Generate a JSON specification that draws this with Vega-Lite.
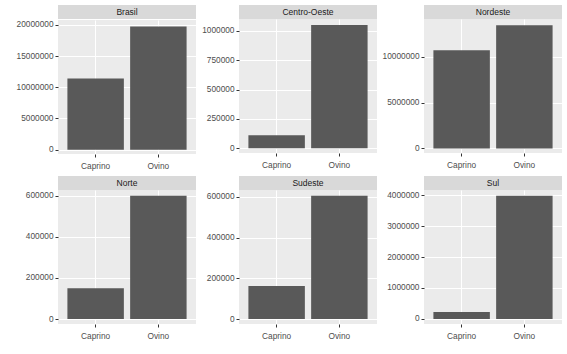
{
  "$schema": "https://vega.github.io/schema/vega-lite/v6.json",
  "background": "white",
  "padding": {"left": 16, "top": 5, "right": 4, "bottom": 4},
  "data": {"values": [
    {"regiao": "Brasil", "especie": "Caprino", "n": 11430000},
    {"regiao": "Brasil", "especie": "Ovino", "n": 19740000},
    {"regiao": "Centro-Oeste", "especie": "Caprino", "n": 110000},
    {"regiao": "Centro-Oeste", "especie": "Ovino", "n": 1048000},
    {"regiao": "Nordeste", "especie": "Caprino", "n": 10720000},
    {"regiao": "Nordeste", "especie": "Ovino", "n": 13470000},
    {"regiao": "Norte", "especie": "Caprino", "n": 150000},
    {"regiao": "Norte", "especie": "Ovino", "n": 600000},
    {"regiao": "Sudeste", "especie": "Caprino", "n": 162000},
    {"regiao": "Sudeste", "especie": "Ovino", "n": 605000},
    {"regiao": "Sul", "especie": "Caprino", "n": 224000},
    {"regiao": "Sul", "especie": "Ovino", "n": 3980000}
  ]},
  "columns": 3,
  "spacing": {"row": 6, "column": 5},
  "concat": [
    {"spacing": 0, "vconcat": [
      {"width": 138, "height": 14, "data": {"values": [{"painel": "Brasil"}]}, "view": {"fill": "#D9D9D9", "stroke": null},
       "mark": {"type": "text", "fontSize": 8.5, "color": "#1A1A1A"}, "encoding": {"text": {"field": "painel"}}},
      {"width": 138, "height": 134, "transform": [{"filter": "datum.regiao === 'Brasil'"}],
       "encoding": {"x": {"field": "especie", "type": "nominal", "sort": ["Caprino", "Ovino"], "title": null, "scale": {"paddingInner": 0.1, "paddingOuter": 0.15}}},
       "layer": [
         {"mark": {"type": "bar", "color": "#595959"},
          "encoding": {"y": {"field": "n", "type": "quantitative", "title": null, "scale": {"domain": [-700000, 20800000], "nice": false, "zero": false}, "axis": {"values": [0, 5000000, 10000000, 15000000, 20000000], "format": "d"}}, "y2": {"datum": 0}}},
         {"mark": {"type": "bar", "opacity": 0},
          "encoding": {"y": {"field": "n", "type": "quantitative", "title": null, "scale": {"domain": [-700000, 20800000], "nice": false, "zero": false}, "axis": {"orient": "left", "values": [2500000, 7500000, 12500000, 17500000], "labels": false, "ticks": false, "domain": false, "gridWidth": 0.5}}}}
       ],
       "resolve": {"axis": {"y": "independent"}}}
    ]},
    {"spacing": 0, "vconcat": [
      {"width": 138, "height": 14, "data": {"values": [{"painel": "Centro-Oeste"}]}, "view": {"fill": "#D9D9D9", "stroke": null},
       "mark": {"type": "text", "fontSize": 8.5, "color": "#1A1A1A"}, "encoding": {"text": {"field": "painel"}}},
      {"width": 138, "height": 134, "transform": [{"filter": "datum.regiao === 'Centro-Oeste'"}],
       "encoding": {"x": {"field": "especie", "type": "nominal", "sort": ["Caprino", "Ovino"], "title": null, "scale": {"paddingInner": 0.1, "paddingOuter": 0.15}}},
       "layer": [
         {"mark": {"type": "bar", "color": "#595959"},
          "encoding": {"y": {"field": "n", "type": "quantitative", "title": null, "scale": {"domain": [-40000, 1100000], "nice": false, "zero": false}, "axis": {"values": [0, 250000, 500000, 750000, 1000000], "format": "d"}}, "y2": {"datum": 0}}},
         {"mark": {"type": "bar", "opacity": 0},
          "encoding": {"y": {"field": "n", "type": "quantitative", "title": null, "scale": {"domain": [-40000, 1100000], "nice": false, "zero": false}, "axis": {"orient": "left", "values": [125000, 375000, 625000, 875000], "labels": false, "ticks": false, "domain": false, "gridWidth": 0.5}}}}
       ],
       "resolve": {"axis": {"y": "independent"}}}
    ]},
    {"spacing": 0, "vconcat": [
      {"width": 138, "height": 14, "data": {"values": [{"painel": "Nordeste"}]}, "view": {"fill": "#D9D9D9", "stroke": null},
       "mark": {"type": "text", "fontSize": 8.5, "color": "#1A1A1A"}, "encoding": {"text": {"field": "painel"}}},
      {"width": 138, "height": 134, "transform": [{"filter": "datum.regiao === 'Nordeste'"}],
       "encoding": {"x": {"field": "especie", "type": "nominal", "sort": ["Caprino", "Ovino"], "title": null, "scale": {"paddingInner": 0.1, "paddingOuter": 0.15}}},
       "layer": [
         {"mark": {"type": "bar", "color": "#595959"},
          "encoding": {"y": {"field": "n", "type": "quantitative", "title": null, "scale": {"domain": [-500000, 14140000], "nice": false, "zero": false}, "axis": {"values": [0, 5000000, 10000000], "format": "d"}}, "y2": {"datum": 0}}},
         {"mark": {"type": "bar", "opacity": 0},
          "encoding": {"y": {"field": "n", "type": "quantitative", "title": null, "scale": {"domain": [-500000, 14140000], "nice": false, "zero": false}, "axis": {"orient": "left", "values": [2500000, 7500000, 12500000], "labels": false, "ticks": false, "domain": false, "gridWidth": 0.5}}}}
       ],
       "resolve": {"axis": {"y": "independent"}}}
    ]},
    {"spacing": 0, "vconcat": [
      {"width": 138, "height": 14, "data": {"values": [{"painel": "Norte"}]}, "view": {"fill": "#D9D9D9", "stroke": null},
       "mark": {"type": "text", "fontSize": 8.5, "color": "#1A1A1A"}, "encoding": {"text": {"field": "painel"}}},
      {"width": 138, "height": 134, "transform": [{"filter": "datum.regiao === 'Norte'"}],
       "encoding": {"x": {"field": "especie", "type": "nominal", "sort": ["Caprino", "Ovino"], "title": null, "scale": {"paddingInner": 0.1, "paddingOuter": 0.15}}},
       "layer": [
         {"mark": {"type": "bar", "color": "#595959"},
          "encoding": {"y": {"field": "n", "type": "quantitative", "title": null, "scale": {"domain": [-24000, 628000], "nice": false, "zero": false}, "axis": {"values": [0, 200000, 400000, 600000], "format": "d"}}, "y2": {"datum": 0}}},
         {"mark": {"type": "bar", "opacity": 0},
          "encoding": {"y": {"field": "n", "type": "quantitative", "title": null, "scale": {"domain": [-24000, 628000], "nice": false, "zero": false}, "axis": {"orient": "left", "values": [100000, 300000, 500000], "labels": false, "ticks": false, "domain": false, "gridWidth": 0.5}}}}
       ],
       "resolve": {"axis": {"y": "independent"}}}
    ]},
    {"spacing": 0, "vconcat": [
      {"width": 138, "height": 14, "data": {"values": [{"painel": "Sudeste"}]}, "view": {"fill": "#D9D9D9", "stroke": null},
       "mark": {"type": "text", "fontSize": 8.5, "color": "#1A1A1A"}, "encoding": {"text": {"field": "painel"}}},
      {"width": 138, "height": 134, "transform": [{"filter": "datum.regiao === 'Sudeste'"}],
       "encoding": {"x": {"field": "especie", "type": "nominal", "sort": ["Caprino", "Ovino"], "title": null, "scale": {"paddingInner": 0.1, "paddingOuter": 0.15}}},
       "layer": [
         {"mark": {"type": "bar", "color": "#595959"},
          "encoding": {"y": {"field": "n", "type": "quantitative", "title": null, "scale": {"domain": [-24000, 633000], "nice": false, "zero": false}, "axis": {"values": [0, 200000, 400000, 600000], "format": "d"}}, "y2": {"datum": 0}}},
         {"mark": {"type": "bar", "opacity": 0},
          "encoding": {"y": {"field": "n", "type": "quantitative", "title": null, "scale": {"domain": [-24000, 633000], "nice": false, "zero": false}, "axis": {"orient": "left", "values": [100000, 300000, 500000], "labels": false, "ticks": false, "domain": false, "gridWidth": 0.5}}}}
       ],
       "resolve": {"axis": {"y": "independent"}}}
    ]},
    {"spacing": 0, "vconcat": [
      {"width": 138, "height": 14, "data": {"values": [{"painel": "Sul"}]}, "view": {"fill": "#D9D9D9", "stroke": null},
       "mark": {"type": "text", "fontSize": 8.5, "color": "#1A1A1A"}, "encoding": {"text": {"field": "painel"}}},
      {"width": 138, "height": 134, "transform": [{"filter": "datum.regiao === 'Sul'"}],
       "encoding": {"x": {"field": "especie", "type": "nominal", "sort": ["Caprino", "Ovino"], "title": null, "scale": {"paddingInner": 0.1, "paddingOuter": 0.15}}},
       "layer": [
         {"mark": {"type": "bar", "color": "#595959"},
          "encoding": {"y": {"field": "n", "type": "quantitative", "title": null, "scale": {"domain": [-165000, 4170000], "nice": false, "zero": false}, "axis": {"values": [0, 1000000, 2000000, 3000000, 4000000], "format": "d"}}, "y2": {"datum": 0}}},
         {"mark": {"type": "bar", "opacity": 0},
          "encoding": {"y": {"field": "n", "type": "quantitative", "title": null, "scale": {"domain": [-165000, 4170000], "nice": false, "zero": false}, "axis": {"orient": "left", "values": [500000, 1500000, 2500000, 3500000], "labels": false, "ticks": false, "domain": false, "gridWidth": 0.5}}}}
       ],
       "resolve": {"axis": {"y": "independent"}}}
    ]}
  ],
  "config": {
    "font": "Liberation Sans",
    "view": {"fill": "#EBEBEB", "stroke": null},
    "axis": {
      "labelFont": "Liberation Sans",
      "labelFontSize": 8.3,
      "labelColor": "#4D4D4D",
      "tickColor": "#333333",
      "tickSize": 3,
      "labelPadding": 2,
      "domain": false,
      "grid": true,
      "gridColor": "#FFFFFF",
      "gridWidth": 1,
      "labelOverlap": false,
      "labelFlush": false
    },
    "axisX": {"bandPosition": 0.5, "labelAngle": 0, "labelPadding": 4},
    "axisY": {"labelBaseline": "middle"}
  }
}
